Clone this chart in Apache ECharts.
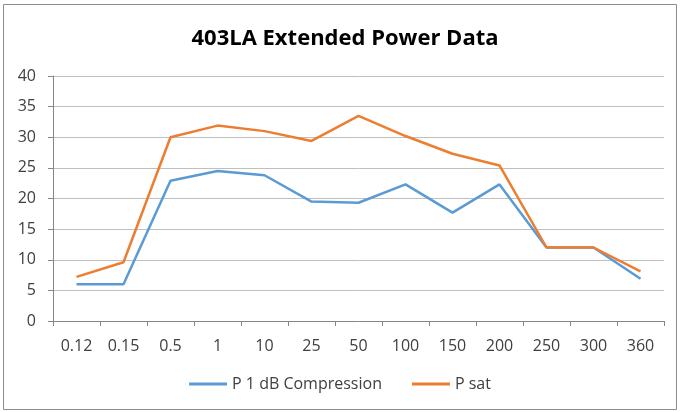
<!DOCTYPE html>
<html><head><meta charset="utf-8">
<script src="https://cdn.jsdelivr.net/npm/echarts@6/dist/echarts.min.js"></script>
<style>html,body{margin:0;padding:0;background:#fff}#c{width:680px;height:412px}</style>
</head><body><div id="c"></div>
<script>
const categories = ['0.12','0.15','0.5','1','10','25','50','100','150','200','250','300','360'];
const p1dB = [6.0, 6.0, 22.9, 24.5, 23.8, 19.5, 19.3, 22.3, 17.7, 22.3, 12.0, 12.0, 6.9];
const psat = [7.2, 9.6, 30.0, 31.9, 31.0, 29.4, 33.5, 30.2, 27.3, 25.4, 12.0, 12.0, 8.1];
const yTicks = {min: 0, max: 40, interval: 5};

const chart = echarts.init(document.getElementById('c'), null, {renderer: 'canvas'});
const font = '"Open Sans", "Liberation Sans", sans-serif';
chart.setOption({
  animation: false,
  backgroundColor: '#fff',
  graphic: [{type: 'rect', shape: {x: 3.5, y: 4.5, width: 673, height: 405}, style: {fill: 'none', stroke: '#8c8c8c', lineWidth: 1}, silent: true}],
  title: {text: '403LA Extended Power Data', left: 340, textAlign: 'center', top: 23,
    textStyle: {fontFamily: font, fontWeight: 'bold', fontSize: 22, color: '#000'}},
  legend: {bottom: 15, left: 'center', itemWidth: 38, itemHeight: 3, itemGap: 30, icon: 'rect',
    textStyle: {fontFamily: font, fontSize: 16, color: '#404040'},
    data: ['P 1 dB Compression', 'P sat']},
  grid: {left: 53, right: 16, top: 76, bottom: 91, containLabel: false},
  xAxis: {type: 'category', data: categories, boundaryGap: true,
    axisLine: {lineStyle: {color: '#868686', width: 1}},
    axisTick: {show: true, length: 5, lineStyle: {color: '#868686'}, alignWithLabel: false},
    axisLabel: {fontFamily: font, fontSize: 16, color: '#404040', margin: 17, interval: 0}},
  yAxis: {type: 'value', min: yTicks.min, max: yTicks.max, interval: yTicks.interval,
    axisLine: {show: true, lineStyle: {color: '#868686'}},
    axisTick: {show: true, length: 5, lineStyle: {color: '#868686'}},
    splitLine: {lineStyle: {color: '#bfbfbf', width: 1}},
    axisLabel: {fontFamily: font, fontSize: 16, color: '#404040', margin: 17}},
  series: [
    {name: 'P 1 dB Compression', type: 'line', data: p1dB, symbol: 'none',
      lineStyle: {color: '#5B9BD5', width: 2.5}, itemStyle: {color: '#5B9BD5'}},
    {name: 'P sat', type: 'line', data: psat, symbol: 'none',
      lineStyle: {color: '#ED7D31', width: 2.5}, itemStyle: {color: '#ED7D31'}}
  ]
});
</script></body></html>
